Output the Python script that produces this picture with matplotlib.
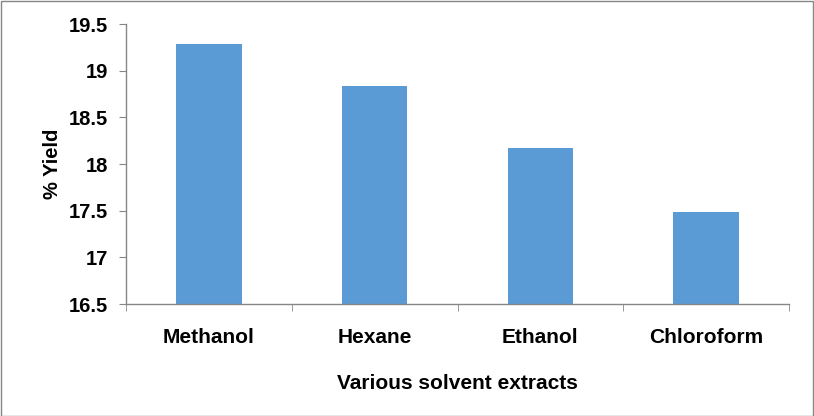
import matplotlib
matplotlib.use("Agg")
import matplotlib.pyplot as plt
from matplotlib.patches import Rectangle

categories = ["Methanol", "Hexane", "Ethanol", "Chloroform"]
yields = [19.29, 18.84, 18.17, 17.49]
yticks = [16.5, 17, 17.5, 18, 18.5, 19, 19.5]
ytick_labels = ["16.5", "17", "17.5", "18", "18.5", "19", "19.5"]

plt.rcParams['font.family'] = ['Liberation Sans', 'DejaVu Sans']

fig = plt.figure(figsize=(8.14, 4.16), dpi=100)
ax = fig.add_axes([126/814, 1 - 304/416, (789-126)/814, (304-24)/416])

x = list(range(len(categories)))
ax.bar(x, yields, width=0.395, color="#5B9BD5", bottom=0, zorder=2)
ax.set_ylim(16.5, 19.5)
ax.set_xlim(-0.5, len(categories) - 0.5)
ax.set_yticks(yticks)
ax.set_yticklabels(ytick_labels, fontsize=14.5, fontweight='bold')
ax.set_xticks(x)
ax.set_xticklabels(categories, fontsize=15, fontweight='bold')
ax.set_xticks([i + 0.5 for i in x[:-1]] + [-0.5, len(categories) - 0.5], minor=True)

for s in ["top", "right"]:
    ax.spines[s].set_visible(False)
for s in ["left", "bottom"]:
    ax.spines[s].set_color("#868686")
    ax.spines[s].set_linewidth(1.0)

ax.tick_params(axis='y', which='major', direction='out', length=5, color="#868686", pad=8)
ax.tick_params(axis='x', which='major', length=0, pad=17)
ax.tick_params(axis='x', which='minor', direction='out', length=5, color="#868686")

ax.set_ylabel("% Yield", fontsize=14.5, fontweight='bold', labelpad=5)
ax.set_xlabel("Various solvent extracts", fontsize=15, fontweight='bold', labelpad=20)

fig.patches.append(Rectangle((0.5/814, 0.5/416), 1 - 1.5/814, 1 - 1.5/416, transform=fig.transFigure,
                             fill=False, edgecolor="#868686", linewidth=1.0))

fig.savefig("out.png", dpi=100)
